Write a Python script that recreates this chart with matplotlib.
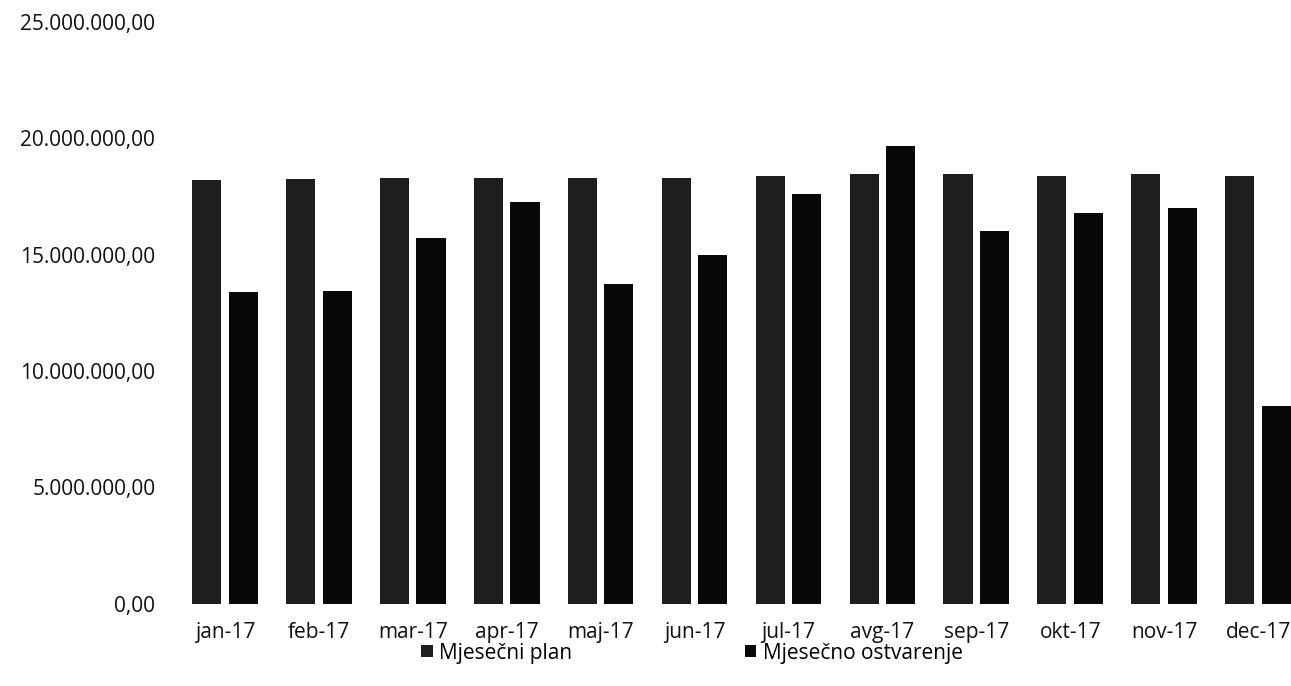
import matplotlib.pyplot as plt
import numpy as np

plt.rcParams['font.family'] = ['Open Sans', 'DejaVu Sans']

months = ["jan-17", "feb-17", "mar-17", "apr-17", "maj-17", "jun-17",
          "jul-17", "avg-17", "sep-17", "okt-17", "nov-17", "dec-17"]
plan = [18.2, 18.25, 18.3, 18.3, 18.3, 18.3, 18.4, 18.45, 18.45, 18.4, 18.45, 18.4]
ostvarenje = [13.4, 13.45, 15.7, 17.25, 13.75, 15.0, 17.6, 19.65, 16.0, 16.8, 17.0, 8.5]
plan = [v * 1e6 for v in plan]
ostvarenje = [v * 1e6 for v in ostvarenje]

def fmt(v, pos=None):
    s = "{:,.2f}".format(v)
    return s.replace(",", "X").replace(".", ",").replace("X", ".")

fig = plt.figure(figsize=(12.91, 6.86), dpi=100)
ax = fig.add_axes([0.13, 0.12, 0.87, 0.848])

x = np.arange(len(months))
w = 0.31
ax.bar(x - 0.195, plan, w, color="#1e1e1e", label="Mjesečni plan")
ax.bar(x + 0.195, ostvarenje, w, color="#080808", label="Mjesečno ostvarenje")

ax.set_xlim(-0.607, 11.35)
ax.set_ylim(0, 25e6)
ax.set_yticks(np.arange(0, 25e6 + 1, 5e6))
ax.yaxis.set_major_formatter(plt.FuncFormatter(fmt))
ax.set_xticks(x)
ax.set_xticklabels(months)
ax.tick_params(axis="both", length=0, labelsize=15, colors="#111111")
ax.tick_params(axis="x", pad=13)
ax.tick_params(axis="y", pad=9)
for s in ax.spines.values():
    s.set_visible(False)

fig.legend(loc="center", bbox_to_anchor=(0.536, 0.048), ncol=2, frameon=False,
           fontsize=15, handlelength=0.55, handleheight=0.55, handletextpad=0.3,
           columnspacing=8.3)

fig.savefig("out.png", dpi=100)
